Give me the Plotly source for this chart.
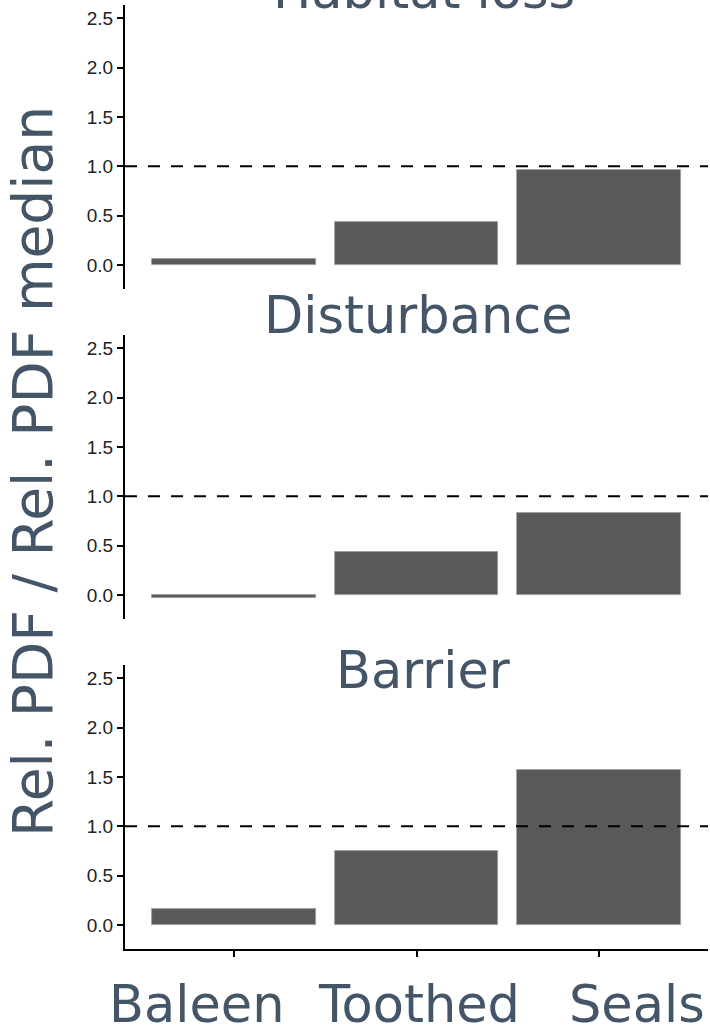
import plotly.graph_objects as go
from plotly.subplots import make_subplots

categories = ["Baleen", "Toothed", "Seals"]
panels = ["Habitat loss", "Disturbance", "Barrier"]
habitat_loss = [0.06, 0.44, 0.96]
disturbance = [-0.03, 0.44, 0.83]
barrier = [0.16, 0.75, 1.57]
series = [habitat_loss, disturbance, barrier]
y_ticks = [0.0, 0.5, 1.0, 1.5, 2.0, 2.5]
y_ticklabels = ["0.0", "0.5", "1.0", "1.5", "2.0", "2.5"]
ref_line = 1.0

W, H = 710, 1025
ML, MR, MT, MB = 125, 2, 5, 76
PH = H - MT - MB
PW = W - ML - MR

def py(p):
    return (H - MB - p) / PH

def px(p):
    return (p - ML) / PW

TEXT_COLOR = "#435566"
BIG_FONT = dict(family="DejaVu Sans", size=51, color=TEXT_COLOR)

fig = make_subplots(rows=3, cols=1, shared_xaxes=False)

domains = [[py(289), 1.0], [py(619), py(335)], [0.0, py(665)]]

for i, vals in enumerate(series):
    fig.add_trace(
        go.Bar(
            x=categories, y=vals, width=0.9,
            marker=dict(color="#595959", line=dict(color="#9a9a9a", width=0.8)),
            showlegend=False,
        ),
        row=i + 1, col=1,
    )
    ax = "" if i == 0 else str(i + 1)
    fig.update_layout(**{
        "yaxis" + ax: dict(
            domain=domains[i], range=[-0.243, 2.634],
            tickvals=y_ticks, ticktext=y_ticklabels,
            showline=True, linecolor="black", linewidth=2,
            ticks="outside", ticklen=6, tickwidth=1.5, tickcolor="black",
            tickfont=dict(family="Liberation Sans", size=19, color="#222222"),
            showgrid=False, zeroline=False,
        ),
        "xaxis" + ax: dict(
            range=[-0.6, 2.6], showgrid=False, zeroline=False,
            showticklabels=False,
            showline=(i == 2), linecolor="black", linewidth=2,
            ticks="outside" if i == 2 else "", ticklen=6, tickwidth=1.5, tickcolor="black",
        ),
    })
    fig.add_shape(
        type="line", xref=f"x{ax} domain", yref=f"y{ax}",
        x0=0, x1=1, y0=ref_line, y1=ref_line,
        line=dict(color="black", width=2, dash="12px,11px"),
    )

title_pos = [(424, -9), (418, 315), (423, 670)]
for name, (cx, cy) in zip(panels, title_pos):
    fig.add_annotation(
        text=name, xref="paper", yref="paper", x=px(cx), y=py(cy),
        xanchor="center", yanchor="middle", showarrow=False, font=BIG_FONT,
    )

label_shift = [-37, 2, 38]
for cat, sh in zip(categories, label_shift):
    fig.add_annotation(
        text=cat, xref="x3", yref="paper", x=cat, y=py(1004), xshift=sh,
        xanchor="center", yanchor="middle", showarrow=False, font=BIG_FONT,
    )

fig.add_annotation(
    text="Rel. PDF / Rel. PDF median", xref="paper", yref="paper",
    x=px(33), y=py(472), textangle=-90, xanchor="center", yanchor="middle",
    showarrow=False, font=dict(family="DejaVu Sans", size=55, color=TEXT_COLOR),
)

fig.update_layout(
    width=W, height=H,
    margin=dict(l=ML, r=MR, t=MT, b=MB, autoexpand=False),
    paper_bgcolor="white", plot_bgcolor="white",
    bargap=0,
)

fig.write_html(
    "out.html",
    config={"displayModeBar": False},
    post_script="document.body.style.margin='0px';",
)
